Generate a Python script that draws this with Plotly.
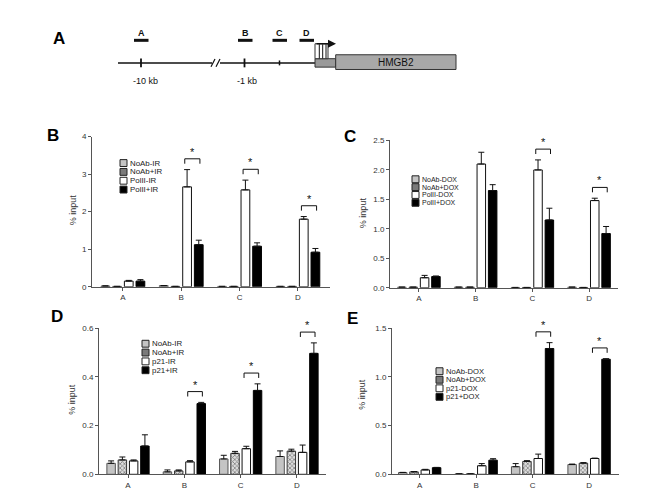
import plotly.graph_objects as go

# ---------------- data ----------------
groups = ["A", "B", "C", "D"]

# Panel B (PolII ChIP, IR)
b_names = ["NoAb-IR", "NoAb+IR", "PolII-IR", "PolII+IR"]
b_noab_minus = [0.02, 0.03, 0.01, 0.01]
b_noab_plus = [0.01, 0.01, 0.01, 0.01]
b_pol_minus = [0.15, 2.66, 2.58, 1.80]
b_pol_plus = [0.15, 1.12, 1.08, 0.92]
b_err_noab_minus = [0.004, 0.004, 0.0, 0.0]
b_err_noab_plus = [0.0, 0.0, 0.0, 0.0]
b_err_pol_minus = [0.02, 0.46, 0.26, 0.07]
b_err_pol_plus = [0.04, 0.12, 0.09, 0.10]

# Panel C (PolII ChIP, DOX)
c_names = ["NoAb-DOX", "NoAb+DOX", "PolII-DOX", "PolII+DOX"]
c_noab_minus = [0.01, 0.01, 0.005, 0.01]
c_noab_plus = [0.01, 0.01, 0.005, 0.005]
c_pol_minus = [0.17, 2.10, 2.00, 1.48]
c_pol_plus = [0.19, 1.65, 1.15, 0.92]
c_err_noab_minus = [0.0, 0.0, 0.0, 0.0]
c_err_noab_plus = [0.0, 0.0, 0.0, 0.0]
c_err_pol_minus = [0.04, 0.20, 0.17, 0.04]
c_err_pol_plus = [0.01, 0.10, 0.20, 0.12]

# Panel D (p21 ChIP, IR)
d_names = ["NoAb-IR", "NoAb+IR", "p21-IR", "p21+IR"]
d_noab_minus = [0.045, 0.010, 0.063, 0.073]
d_noab_plus = [0.059, 0.014, 0.086, 0.095]
d_p21_minus = [0.055, 0.051, 0.105, 0.090]
d_p21_plus = [0.116, 0.290, 0.344, 0.496]
d_err_noab_minus = [0.010, 0.008, 0.015, 0.023]
d_err_noab_plus = [0.012, 0.004, 0.008, 0.008]
d_err_p21_minus = [0.004, 0.005, 0.010, 0.030]
d_err_p21_plus = [0.046, 0.005, 0.027, 0.043]

# Panel E (p21 ChIP, DOX)
e_names = ["NoAb-DOX", "NoAb+DOX", "p21-DOX", "p21+DOX"]
e_noab_minus = [0.018, 0.004, 0.078, 0.100]
e_noab_plus = [0.025, 0.004, 0.132, 0.114]
e_p21_minus = [0.045, 0.088, 0.162, 0.162]
e_p21_plus = [0.068, 0.145, 1.29, 1.18]
e_err_noab_minus = [0.002, 0.001, 0.032, 0.005]
e_err_noab_plus = [0.003, 0.001, 0.008, 0.006]
e_err_p21_minus = [0.006, 0.022, 0.045, 0.004]
e_err_p21_plus = [0.003, 0.015, 0.060, 0.005]

# ---------------- layout helpers ----------------
W, H = 662, 496
FONT = "Arial, Liberation Sans, sans-serif"


def PX(x):
    return x / W


def PY(y):
    return 1 - y / H


BARGAP = 0.2
SLOT = (1 - BARGAP) / 4
OFFS = [-(1 - BARGAP) / 2 + SLOT * (i + 0.5) for i in range(4)]

styles = [
    dict(color="#c4c4c4", line=dict(color="#555555", width=1)),
    dict(color="#d0d0d0", line=dict(color="#333333", width=1),
         pattern=dict(shape="x", fgcolor="#222222", bgcolor="#dddddd", size=3, solidity=0.45)),
    dict(color="#ffffff", line=dict(color="#111111", width=1)),
    dict(color="#000000", line=dict(color="#000000", width=1)),
]
swatch_fill = ["#c4c4c4", "#7a7a7a", "#ffffff", "#000000"]

panels = [
    dict(ax="", letter="B", names=b_names,
         vals=[b_noab_minus, b_noab_plus, b_pol_minus, b_pol_plus],
         errs=[b_err_noab_minus, b_err_noab_plus, b_err_pol_minus, b_err_pol_plus],
         yr=(0, 4), dtick=1, fmt=".0f", xpx=(92, 330), ypx=(135, 288), xr=(-0.53, 3.55),
         leg=(120, 162, 9.0), ytitle=(73, 210), lpos=(53, 134), sig=[1, 2, 3]),
    dict(ax="2", letter="C", names=c_names,
         vals=[c_noab_minus, c_noab_plus, c_pol_minus, c_pol_plus],
         errs=[c_err_noab_minus, c_err_noab_plus, c_err_pol_minus, c_err_pol_plus],
         yr=(0, 2.5), dtick=0.5, fmt=".1f", xpx=(390, 618), ypx=(139, 289), xr=(-0.51, 3.51),
         leg=(412, 178.5, 8.0), ytitle=(363, 213), lpos=(350, 135), sig=[2, 3]),
    dict(ax="3", letter="D", names=d_names,
         vals=[d_noab_minus, d_noab_plus, d_p21_minus, d_p21_plus],
         errs=[d_err_noab_minus, d_err_noab_plus, d_err_p21_minus, d_err_p21_plus],
         yr=(0, 0.6), dtick=0.2, fmt=".1f", xpx=(99, 326), ypx=(330, 479), xr=(-0.515, 3.515),
         leg=(142, 346, 9.0), ytitle=(72, 403), lpos=(57, 318), sig=[1, 2, 3]),
    dict(ax="4", letter="E", names=e_names,
         vals=[e_noab_minus, e_noab_plus, e_p21_minus, e_p21_plus],
         errs=[e_err_noab_minus, e_err_noab_plus, e_err_p21_minus, e_err_p21_plus],
         yr=(0, 1.5), dtick=0.5, fmt=".1f", xpx=(392, 619), ypx=(330, 479), xr=(-0.49, 3.53),
         leg=(436, 374, 8.7), ytitle=(362, 398), lpos=(352, 320), sig=[2, 3]),
]

fig = go.Figure()
shapes = []
annotations = []
layout_axes = {}


def ann(x, y, text, size=9, color="#111111", xanchor="center", yanchor="middle", **kw):
    annotations.append(dict(x=PX(x), y=PY(y), xref="paper", yref="paper", text=text,
                            showarrow=False, xanchor=xanchor, yanchor=yanchor,
                            font=dict(family=FONT, size=size, color=color), **kw))


for p in panels:
    xa = "x" + p["ax"]
    ya = "y" + p["ax"]
    for i in range(4):
        fig.add_trace(go.Bar(
            x=list(range(len(groups))), y=p["vals"][i], name=p["names"][i],
            xaxis=xa, yaxis=ya, marker=styles[i], showlegend=False,
            error_y=dict(type="data", symmetric=False, array=p["errs"][i],
                         arrayminus=[0] * len(groups), color="#111111", thickness=1, width=3),
        ))
    ax_common = dict(showline=True, linecolor="#555555", linewidth=1, ticks="outside",
                     ticklen=3, tickcolor="#555555", tickwidth=1, showgrid=False, zeroline=False,
                     tickfont=dict(family=FONT, size=8, color="#333333"))
    layout_axes["xaxis" + p["ax"]] = dict(
        domain=[PX(p["xpx"][0]), PX(p["xpx"][1])], range=list(p["xr"]),
        tickvals=list(range(len(groups))), ticktext=groups, anchor=ya, fixedrange=True,
        **ax_common)
    layout_axes["yaxis" + p["ax"]] = dict(
        domain=[PY(p["ypx"][1]), PY(p["ypx"][0])], range=list(p["yr"]), dtick=p["dtick"],
        tickformat=p["fmt"], anchor=xa, fixedrange=True, **ax_common)

    # significance brackets
    per_px = (p["yr"][1] - p["yr"][0]) / (p["ypx"][1] - p["ypx"][0])
    for g in p["sig"]:
        top = max(p["vals"][2][g] + p["errs"][2][g], p["vals"][3][g] + p["errs"][3][g])
        yb = top + 11 * per_px
        yt = yb - 5 * per_px
        x1 = g + OFFS[2] - 0.2 * SLOT
        x2 = g + OFFS[3] + 0.1 * SLOT
        shapes.append(dict(type="path", xref=xa, yref=ya,
                           path=f"M {x1},{yt} L {x1},{yb} L {x2},{yb} L {x2},{yt}",
                           line=dict(color="#111111", width=1)))
        annotations.append(dict(x=(x1 + x2) / 2, y=yb, xref=xa, yref=ya, text="*",
                                showarrow=False, xanchor="center", yanchor="bottom", yshift=-1,
                                font=dict(family=FONT, size=11, color="#111111")))

    # manual legend
    lx, ly, step = p["leg"]
    fsize = min(8.0, round(step / 1.14, 1))
    for i, nm in enumerate(p["names"]):
        cy = ly + step * i
        shapes.append(dict(type="rect", xref="paper", yref="paper",
                           x0=PX(lx), x1=PX(lx + 7), y0=PY(cy + 3.5), y1=PY(cy - 3.5),
                           fillcolor=swatch_fill[i], line=dict(color="#222222", width=1)))
        ann(lx + 9, cy, nm, size=fsize, color="#222222", xanchor="left", borderpad=0)

    ann(p["ytitle"][0], p["ytitle"][1], "% input", size=9, color="#333333", textangle=-90)
    ann(p["lpos"][0], p["lpos"][1], "<b>" + p["letter"] + "</b>", size=17, color="#000000")

# ---------------- panel A: gene diagram ----------------
ann(59, 35, "<b>A</b>", size=17, color="#000000")


def seg(x0, y0, x1, y1, w=1.5, c="#111111"):
    shapes.append(dict(type="line", xref="paper", yref="paper", x0=PX(x0), y0=PY(y0),
                       x1=PX(x1), y1=PY(y1), line=dict(color=c, width=w)))


def box(x0, y0, x1, y1, fill, lw=1):
    shapes.append(dict(type="rect", xref="paper", yref="paper", x0=PX(x0), y0=PY(y1),
                       x1=PX(x1), y1=PY(y0), fillcolor=fill, line=dict(color="#333333", width=lw)))


seg(118, 60, 212, 60)
seg(220, 60, 315, 60)
seg(211, 64, 215, 56, 1.2)
seg(216, 64, 220, 56, 1.2)
seg(141, 55.5, 141, 64.5, 1.8)
seg(244.5, 55.5, 244.5, 64.5, 1.8)
seg(279.5, 57.5, 279.5, 62.5, 1.5)
ann(145, 78, "-10 kb", size=9)
ann(247, 78, "-1 kb", size=9)

frag_names = ["A", "B", "C", "D"]
frag_x = [(134, 148.5), (238, 252.5), (272.5, 287), (299.5, 314)]
for nm, (a, b) in zip(frag_names, frag_x):
    seg(a, 37, b, 37, 3)
    ann((a + b) / 2, 29.5, "<b>" + nm + "</b>", size=9)

box(315, 55.7, 335.7, 64.3, "#9a9a9a")
box(335.7, 51.7, 456, 66.7, "#a8a8a8")
ann(395.5, 59.5, "HMGB2", size=10)
box(315, 40.5, 328, 55.7, "#ffffff")
for xx in (319.3, 322.7, 326):
    seg(xx, 41, xx, 55.5, 1)
annotations.append(dict(x=PX(336), y=PY(40.5), xref="paper", yref="paper", text="",
                        showarrow=True, ax=-21, ay=0, axref="pixel", ayref="pixel",
                        arrowhead=2, arrowsize=1, arrowwidth=1.6, arrowcolor="#111111"))

fig.update_layout(
    width=W, height=H, autosize=False,
    margin=dict(l=0, r=0, t=0, b=0),
    paper_bgcolor="#ffffff", plot_bgcolor="#ffffff",
    barmode="group", bargap=BARGAP, bargroupgap=0.25,
    shapes=shapes, annotations=annotations,
    font=dict(family=FONT, color="#222222"),
    showlegend=False,
    **layout_axes,
)

fig.write_html("out.html",
               config={"displayModeBar": False, "staticPlot": True},
               post_script="document.body.style.margin='0';document.body.style.padding='0';"
                           "document.body.style.overflow='hidden';")
